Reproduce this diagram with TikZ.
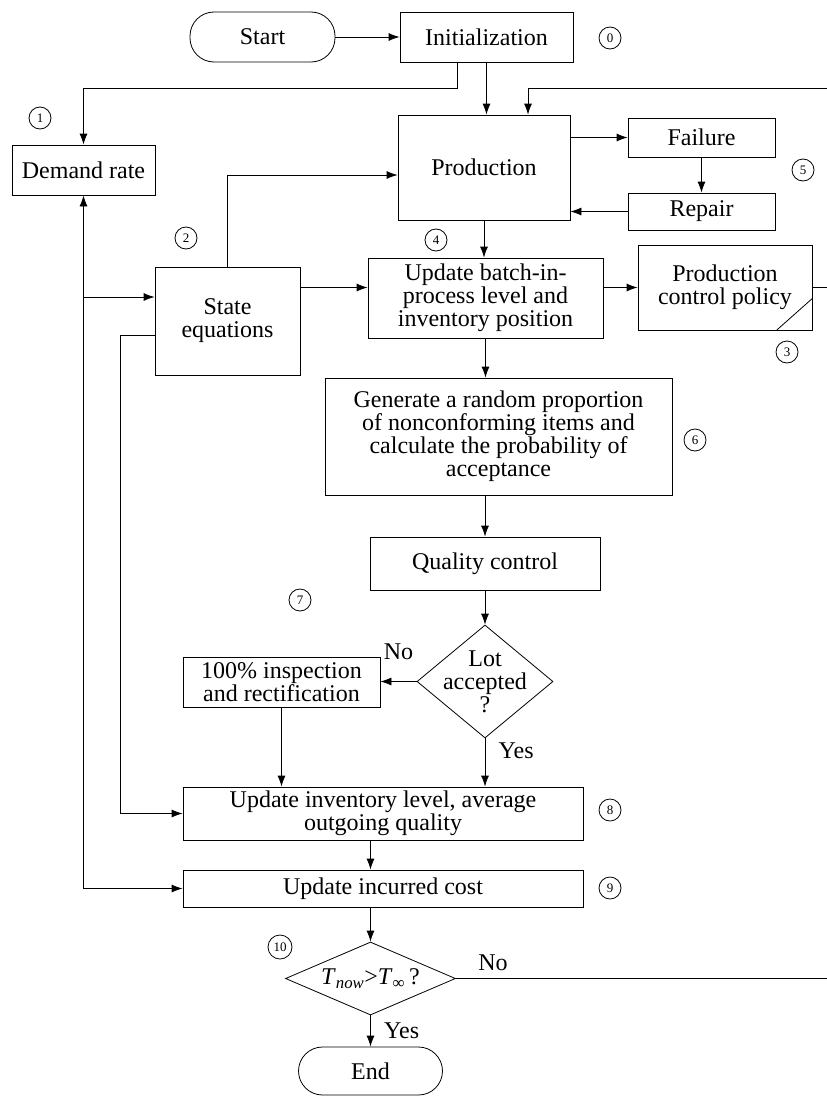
\documentclass[tikz,border=0pt]{standalone}
\usepackage{fontspec}
\setmainfont{Liberation Serif}
\usetikzlibrary{arrows.meta,shapes.geometric,positioning}

\begin{document}
\begin{tikzpicture}[%
    x=1pt, y=-1pt,          % page grid, y runs downwards
    >={Latex[length=11pt,width=8pt]},
    line width=0.8pt,
    ]
% -------------------------------------------------
% Box styles
\tikzset{
  base/.style={draw, align=center, inner sep=0pt, font=\fontsize{24}{23}\selectfont},
  proc/.style={base, rectangle},
  term/.style={base, rectangle, rounded corners=24pt},
  dec/.style={base, diamond, inner xsep=-30pt, inner ysep=-10pt},
  num/.style={draw, circle, inner sep=0pt, minimum size=22pt, font=\fontsize{13}{13}\selectfont},
  lbl/.style={font=\fontsize{24}{24}\selectfont},
  norm/.style={->, draw, black}
  }
\useasboundingbox (0,0) rectangle (827,1100);
% -------------------------------------------------
% Nodes
\node [term, minimum width=145pt, minimum height=50pt] (start) at (262.5,37) {Start};
\node [proc, minimum width=173pt, minimum height=50pt] (init) at (486.5,37) {Initialization};
\node [proc, minimum width=143pt, minimum height=50pt] (demand) at (83.5,170) {Demand rate};
\node [proc, minimum width=172pt, minimum height=105pt] (prod) at (484,167.5) {Production};
\node [proc, minimum width=147pt, minimum height=39pt] (fail) at (701.5,137.5) {Failure};
\node [proc, minimum width=147pt, minimum height=37pt] (repair) at (701.5,211.5) {Repair};
\node [proc, minimum width=145pt, minimum height=108pt] (state) at (227.5,321) {State\\equations};
\node [proc, minimum width=235pt, minimum height=80pt] (batch) at (485.5,298) {Update batch-in-\\process level and\\inventory position};
\node [proc, minimum width=174pt, minimum height=85pt] (pcp) at (725,287.5) {Production\\control policy};
\node [proc, minimum width=347pt, minimum height=117pt] (gen) at (498.5,436.5) {Generate a random proportion\\of nonconforming items and\\calculate the probability of\\acceptance};
\node [proc, minimum width=230pt, minimum height=53pt] (qc) at (485,563.5) {Quality control};
\node [dec, minimum width=136pt, minimum height=113pt] (lot) at (485,681.5) {Lot\\accepted\\?};
\node [proc, minimum width=197pt, minimum height=50pt] (insp) at (281.5,682) {100\% inspection\\and rectification};
\node [proc, minimum width=400pt, minimum height=53pt] (upinv) at (383,813.5) {Update inventory level, average\\outgoing quality};
\node [proc, minimum width=400pt, minimum height=37pt] (upcost) at (383,888.5) {Update incurred cost};
\node [dec, minimum width=170pt, minimum height=73pt] (tdec) at (370.5,978.5) {\textit{T}\textsubscript{\textit{now}}>\textit{T}\textsubscript{∞}\,?};
\node [term, minimum width=144pt, minimum height=48pt] (endn) at (370.5,1071) {End};

% step numbers
\node [num] (n0) at (610,38) {0};
\node [num] (n1) at (40,118) {1};
\node [num] (n2) at (186,238) {2};
\node [num] (n3) at (787,352) {3};
\node [num] (n4) at (436,240) {4};
\node [num] (n5) at (803,170) {5};
\node [num] (n6) at (695,440) {6};
\node [num] (n7) at (300,600) {7};
\node [num] (n8) at (610,810) {8};
\node [num] (n9) at (610,888) {9};
\node [num, minimum size=24pt] (n10) at (280,947) {10};

% corner mark of the policy box
\draw ([xshift=-36pt]pcp.south east) -- ([yshift=32pt]pcp.south east);

% junctions and loose ends
\coordinate (rtop) at (827,88);
\coordinate (rmid) at (827,287.5);
\coordinate (rbot) at (827,978.5);
\coordinate (j1) at (83.5,297);
\coordinate (j2) at (120,335);
% -------------------------------------------------
% Connectors
\draw [norm] (start.east) -- (init.west);
\draw [norm] ([xshift=-29.5pt]init.south) -- ++(0,26) -| (demand.north);
\draw [norm] (init.south) -- (init.south |- prod.north);
\draw [norm] (rtop) -| ([xshift=44pt]prod.north);
\draw [norm] (fail.west -| prod.east) -- (fail.west);
\draw [norm] (fail.south) -- (repair.north);
\draw [norm] (repair.west) -- (repair.west -| prod.east);
\draw [norm] (state.north) |- ([yshift=-7.5pt]prod.west);
\draw [norm] (prod.south) -- (prod.south |- batch.north);
\draw [norm] (state.east |- pcp.west) -- (batch.west |- pcp.west);
\draw [norm] (batch.east |- pcp.west) -- (pcp.west);
\draw (pcp.east) -- (rmid);
\draw [norm] (batch.south) -- (batch.south |- gen.north);
\draw [norm] (qc.north |- gen.south) -- (qc.north);
\draw [norm] (qc.south) -- (lot.north);
\draw [norm] (lot.west) -- (lot.west -| insp.east) node [lbl, midway, above=18pt] {No};
\draw [norm] (insp.south) -- (insp.south |- upinv.north);
\draw [norm] (lot.south) -- (lot.south |- upinv.north) node [lbl, near start, right=10pt] {Yes};
\draw [norm] (tdec.north |- upinv.south) -- (tdec.north |- upcost.north);
\draw [norm] (tdec.north |- upcost.south) -- (tdec.north);
\draw (tdec.east) -- (rbot) node [lbl, pos=0.1, above=4pt] {No};
\draw [norm] (tdec.south) -- (endn.north) node [lbl, midway, right=10pt] {Yes};
\draw [<->] (demand.south) |- (upcost.west);
\draw [norm] (j1) -- (j1 -| state.west);
\draw [norm] (j2 -| state.west) -- (j2) |- (upinv.west);
\end{tikzpicture}
\end{document}
